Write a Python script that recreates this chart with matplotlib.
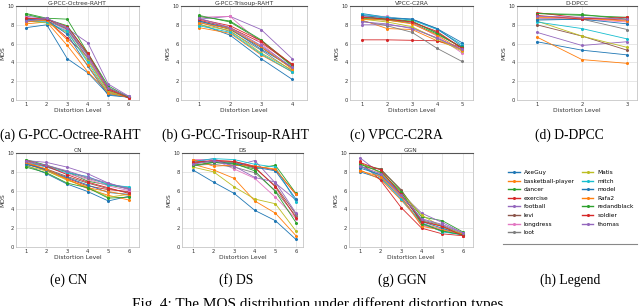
import matplotlib
matplotlib.use("Agg")
import matplotlib.pyplot as plt
from matplotlib.lines import Line2D

names = ["AxeGuy", "basketball-player", "dancer", "exercise", "football", "levi",
         "longdress", "loot", "Matis", "mitch", "model", "Rafa2", "redandblack",
         "soldier", "thomas"]
colors = ["tab:blue", "tab:orange", "tab:green", "tab:red", "tab:purple", "tab:brown",
          "tab:pink", "tab:gray", "tab:olive", "tab:cyan", "tab:blue", "tab:orange",
          "tab:green", "tab:red", "tab:purple"]

octree = [
    [7.7, 8.0, 4.4, 2.9, 0.6, 0.3], [8.1, 8.3, 5.8, 3.0, 0.8, 0.3],
    [9.2, 8.7, 8.6, 5.0, 1.5, 0.3], [8.6, 8.5, 6.6, 4.6, 1.1, 0.2],
    [8.9, 8.7, 7.6, 6.1, 1.7, 0.4], [8.7, 8.6, 7.5, 4.8, 1.0, 0.3],
    [8.8, 8.5, 7.4, 4.5, 1.2, 0.3], [8.5, 8.4, 7.6, 4.4, 0.9, 0.3],
    [8.4, 8.2, 7.2, 4.2, 0.9, 0.3], [8.4, 8.3, 7.3, 4.0, 0.7, 0.3],
    [8.6, 8.5, 7.0, 3.6, 0.5, 0.3], [8.3, 8.5, 6.4, 3.7, 0.7, 0.3],
    [9.1, 8.6, 7.9, 4.9, 1.3, 0.3], [8.7, 8.6, 7.8, 5.0, 1.2, 0.2],
    [8.4, 8.7, 7.7, 4.7, 1.3, 0.4]]
trisoup = [
    [8.1, 6.9, 4.4, 2.2], [7.7, 7.1, 4.8, 3.0], [9.0, 8.3, 6.3, 3.6],
    [8.5, 7.7, 6.1, 3.8], [8.6, 8.9, 7.5, 4.4], [8.4, 7.5, 5.6, 3.4],
    [8.8, 8.9, 6.0, 3.3], [8.3, 7.3, 5.3, 3.1], [8.0, 7.4, 5.0, 3.2],
    [7.9, 7.2, 4.9, 3.0], [8.4, 7.6, 5.4, 3.5], [8.2, 7.6, 5.7, 3.3],
    [8.9, 8.4, 6.4, 3.7], [8.6, 7.9, 6.3, 3.8], [8.7, 7.7, 5.8, 3.5]]
vpcc = [
    [9.2, 8.8, 8.6, 7.6, 6.1], [8.5, 7.6, 7.5, 6.3, 5.4], [8.7, 8.5, 8.2, 7.0, 5.6],
    [6.4, 6.4, 6.35, 6.3, 5.6], [8.0, 8.0, 7.7, 6.6, 5.3], [8.9, 8.6, 8.3, 7.2, 5.5],
    [8.9, 8.9, 8.2, 6.8, 5.0], [8.4, 7.9, 7.2, 5.5, 4.1], [8.6, 8.3, 7.8, 6.5, 5.2],
    [9.1, 8.8, 8.5, 7.5, 5.9], [9.0, 8.7, 8.6, 7.6, 5.7], [8.6, 8.5, 8.1, 6.9, 5.3],
    [8.8, 8.6, 8.4, 7.1, 5.6], [8.8, 8.6, 8.3, 7.3, 5.5], [8.3, 8.1, 7.6, 6.6, 5.4]]
ddpcc = [
    [6.2, 5.3, 4.8], [6.7, 4.3, 3.9], [9.2, 9.0, 8.8], [9.3, 8.7, 8.5],
    [7.2, 5.8, 6.2], [8.0, 6.8, 5.3], [8.7, 8.6, 8.3], [8.6, 8.6, 7.5],
    [8.4, 6.8, 5.6], [8.3, 7.6, 6.5], [8.5, 8.6, 8.1], [8.8, 8.7, 8.4],
    [9.2, 9.1, 8.6], [9.0, 8.6, 8.8], [8.9, 8.8, 8.6]]
cn = [
    [8.7, 7.8, 6.7, 5.9, 4.9, 5.4], [8.9, 8.1, 7.2, 6.2, 5.5, 5.0],
    [9.3, 8.7, 8.0, 7.0, 6.6, 6.2], [9.0, 8.2, 7.3, 6.5, 6.1, 5.9],
    [9.2, 9.0, 8.5, 7.8, 6.8, 6.1], [8.8, 8.3, 7.5, 6.8, 6.2, 5.8],
    [9.0, 8.5, 7.8, 7.2, 6.5, 6.0], [8.9, 8.6, 8.0, 7.3, 6.7, 6.3],
    [8.6, 8.1, 7.1, 6.4, 5.3, 5.6], [9.1, 8.5, 7.9, 7.5, 6.6, 6.4],
    [8.8, 8.2, 7.4, 6.6, 5.8, 5.6], [9.0, 8.3, 7.2, 6.3, 5.9, 5.5],
    [8.5, 7.9, 6.8, 6.3, 5.2, 5.3], [9.2, 8.6, 7.7, 6.9, 6.3, 5.7],
    [9.1, 8.7, 8.1, 7.4, 6.8, 6.2]]
ds = [
    [8.2, 6.9, 5.7, 3.9, 2.8, 0.8], [8.8, 8.2, 7.3, 4.9, 3.6, 1.2],
    [8.6, 9.0, 8.8, 8.3, 8.7, 5.7], [8.9, 9.2, 9.1, 8.6, 8.2, 5.6],
    [9.0, 9.4, 8.6, 9.2, 6.8, 5.0], [8.9, 9.1, 9.0, 8.4, 6.5, 3.5],
    [9.3, 9.3, 8.3, 7.3, 5.3, 3.0], [8.7, 8.8, 8.5, 7.9, 6.0, 3.3],
    [8.5, 8.0, 6.4, 5.1, 4.6, 1.7], [9.1, 9.4, 9.3, 8.8, 8.5, 4.8],
    [9.2, 9.0, 8.9, 8.5, 8.1, 5.1], [9.3, 8.6, 8.7, 8.6, 8.3, 5.6],
    [8.7, 9.0, 8.9, 8.1, 5.9, 2.6], [9.0, 9.2, 9.1, 8.5, 6.4, 3.1],
    [8.8, 9.2, 8.6, 7.4, 6.9, 3.6]]
ggn = [
    [8.0, 7.3, 5.3, 2.4, 1.7, 1.3], [8.2, 7.2, 5.0, 2.5, 1.9, 1.4],
    [8.8, 8.3, 6.0, 3.2, 2.8, 1.6], [9.1, 7.1, 4.2, 2.0, 1.4, 1.2],
    [9.5, 7.8, 5.7, 3.6, 2.6, 1.5], [8.5, 8.3, 6.1, 2.8, 2.2, 1.3],
    [8.7, 7.5, 5.2, 2.3, 1.9, 1.3], [8.6, 7.6, 5.5, 2.9, 2.3, 1.4],
    [8.9, 7.9, 5.8, 3.4, 2.1, 1.4], [8.7, 7.4, 5.1, 2.6, 1.6, 1.3],
    [8.4, 7.7, 5.6, 2.7, 2.0, 1.3], [8.1, 7.5, 5.4, 2.2, 1.8, 1.4],
    [8.8, 8.0, 5.9, 2.5, 1.7, 1.3], [9.0, 8.2, 5.6, 2.7, 2.2, 1.2],
    [8.6, 7.8, 5.5, 3.0, 2.4, 1.5]]

titles = ["G-PCC-Octree-RAHT", "G-PCC-Trisoup-RAHT", "VPCC-C2RA", "D-DPCC",
          "CN", "DS", "GGN"]
captions = ["(a) G-PCC-Octree-RAHT", "(b) G-PCC-Trisoup-RAHT", "(c) VPCC-C2RA",
            "(d) D-DPCC", "(e) CN", "(f) DS", "(g) GGN", "(h) Legend"]
datasets = [octree, trisoup, vpcc, ddpcc, cn, ds, ggn]

W, H = 640, 306
fig = plt.figure(figsize=(6.4, 3.06), dpi=100)

def rect(x0, y0, x1, y1):
    return [x0 / W, (H - y1) / H, (x1 - x0) / W, (y1 - y0) / H]

# pixel boxes of each panel's axes and x-limits
boxes = [(16, 6, 139, 100), (181, 6, 307, 100), (350, 6, 473, 100), (517, 6, 637, 100),
         (16, 153, 139, 247), (182, 153, 303, 247), (349, 153, 473, 247)]
xlims = [(0.5, 6.5), (0.42, 4.48), (0.52, 5.44), (0.56, 3.22),
         (0.52, 6.49), (0.47, 6.34), (0.47, 6.49)]

handles = []
for i, (data, title) in enumerate(zip(datasets, titles)):
    ax = fig.add_axes(rect(*boxes[i]))
    n = len(data[0])
    x = list(range(1, n + 1))
    for j, series in enumerate(data):
        ln, = ax.plot(x, series, color=colors[j], lw=0.6, marker='o', ms=1.2,
                      label=names[j])
        if i == 0:
            handles.append(ln)
    ax.set_xlim(*xlims[i])
    ax.set_ylim(0, 10)
    ax.set_xticks(x)
    ax.set_yticks([0, 2, 4, 6, 8, 10])
    ax.tick_params(labelsize=3.8, length=0, pad=1.5, colors='#333')
    ax.grid(True, color='#dddddd', lw=0.5)
    ax.set_axisbelow(True)
    for s in ax.spines.values():
        s.set_color('#bbbbbb')
        s.set_linewidth(0.5)
    ax.spines['top'].set_color('#555555')
    ax.spines['top'].set_linewidth(0.8)
    ax.set_title(title, fontsize=4.2, pad=1, color='#333')
    ax.set_xlabel("Distortion Level", fontsize=4.3, labelpad=1, color='#333')
    ax.set_ylabel("MOS", fontsize=4.3, labelpad=1, color='#333')

# legend panel
leg = fig.legend(handles=handles, loc='upper left',
                 bbox_to_anchor=(508 / W, 1 - 170 / H),
                 ncol=2, fontsize=4.2, frameon=False, handlelength=2.0,
                 columnspacing=1.2, labelspacing=0.6, handletextpad=0.7,
                 borderaxespad=0, borderpad=0)
for lh in leg.get_lines():
    lh.set_linewidth(1.0)
fig.add_artist(Line2D([503 / W, 637 / W], [1 - 244 / H, 1 - 244 / H],
                      color='#888888', lw=0.8))

cap_x = [70, 235, 396, 569, 69, 236, 402, 570]
cap_y = [135, 135, 135, 135, 280, 280, 280, 280]
for cx, cy, c in zip(cap_x, cap_y, captions):
    fig.text(cx / W, 1 - cy / H, c, ha='center', va='center', fontsize=9.8,
             family='Liberation Serif')

fig.text(319 / W, 1 - 297 / H,
         "Fig. 4: The MOS distribution under different distortion types.",
         ha='center', va='top', fontsize=11, family='Liberation Serif')

fig.savefig("out.png", dpi=100)
